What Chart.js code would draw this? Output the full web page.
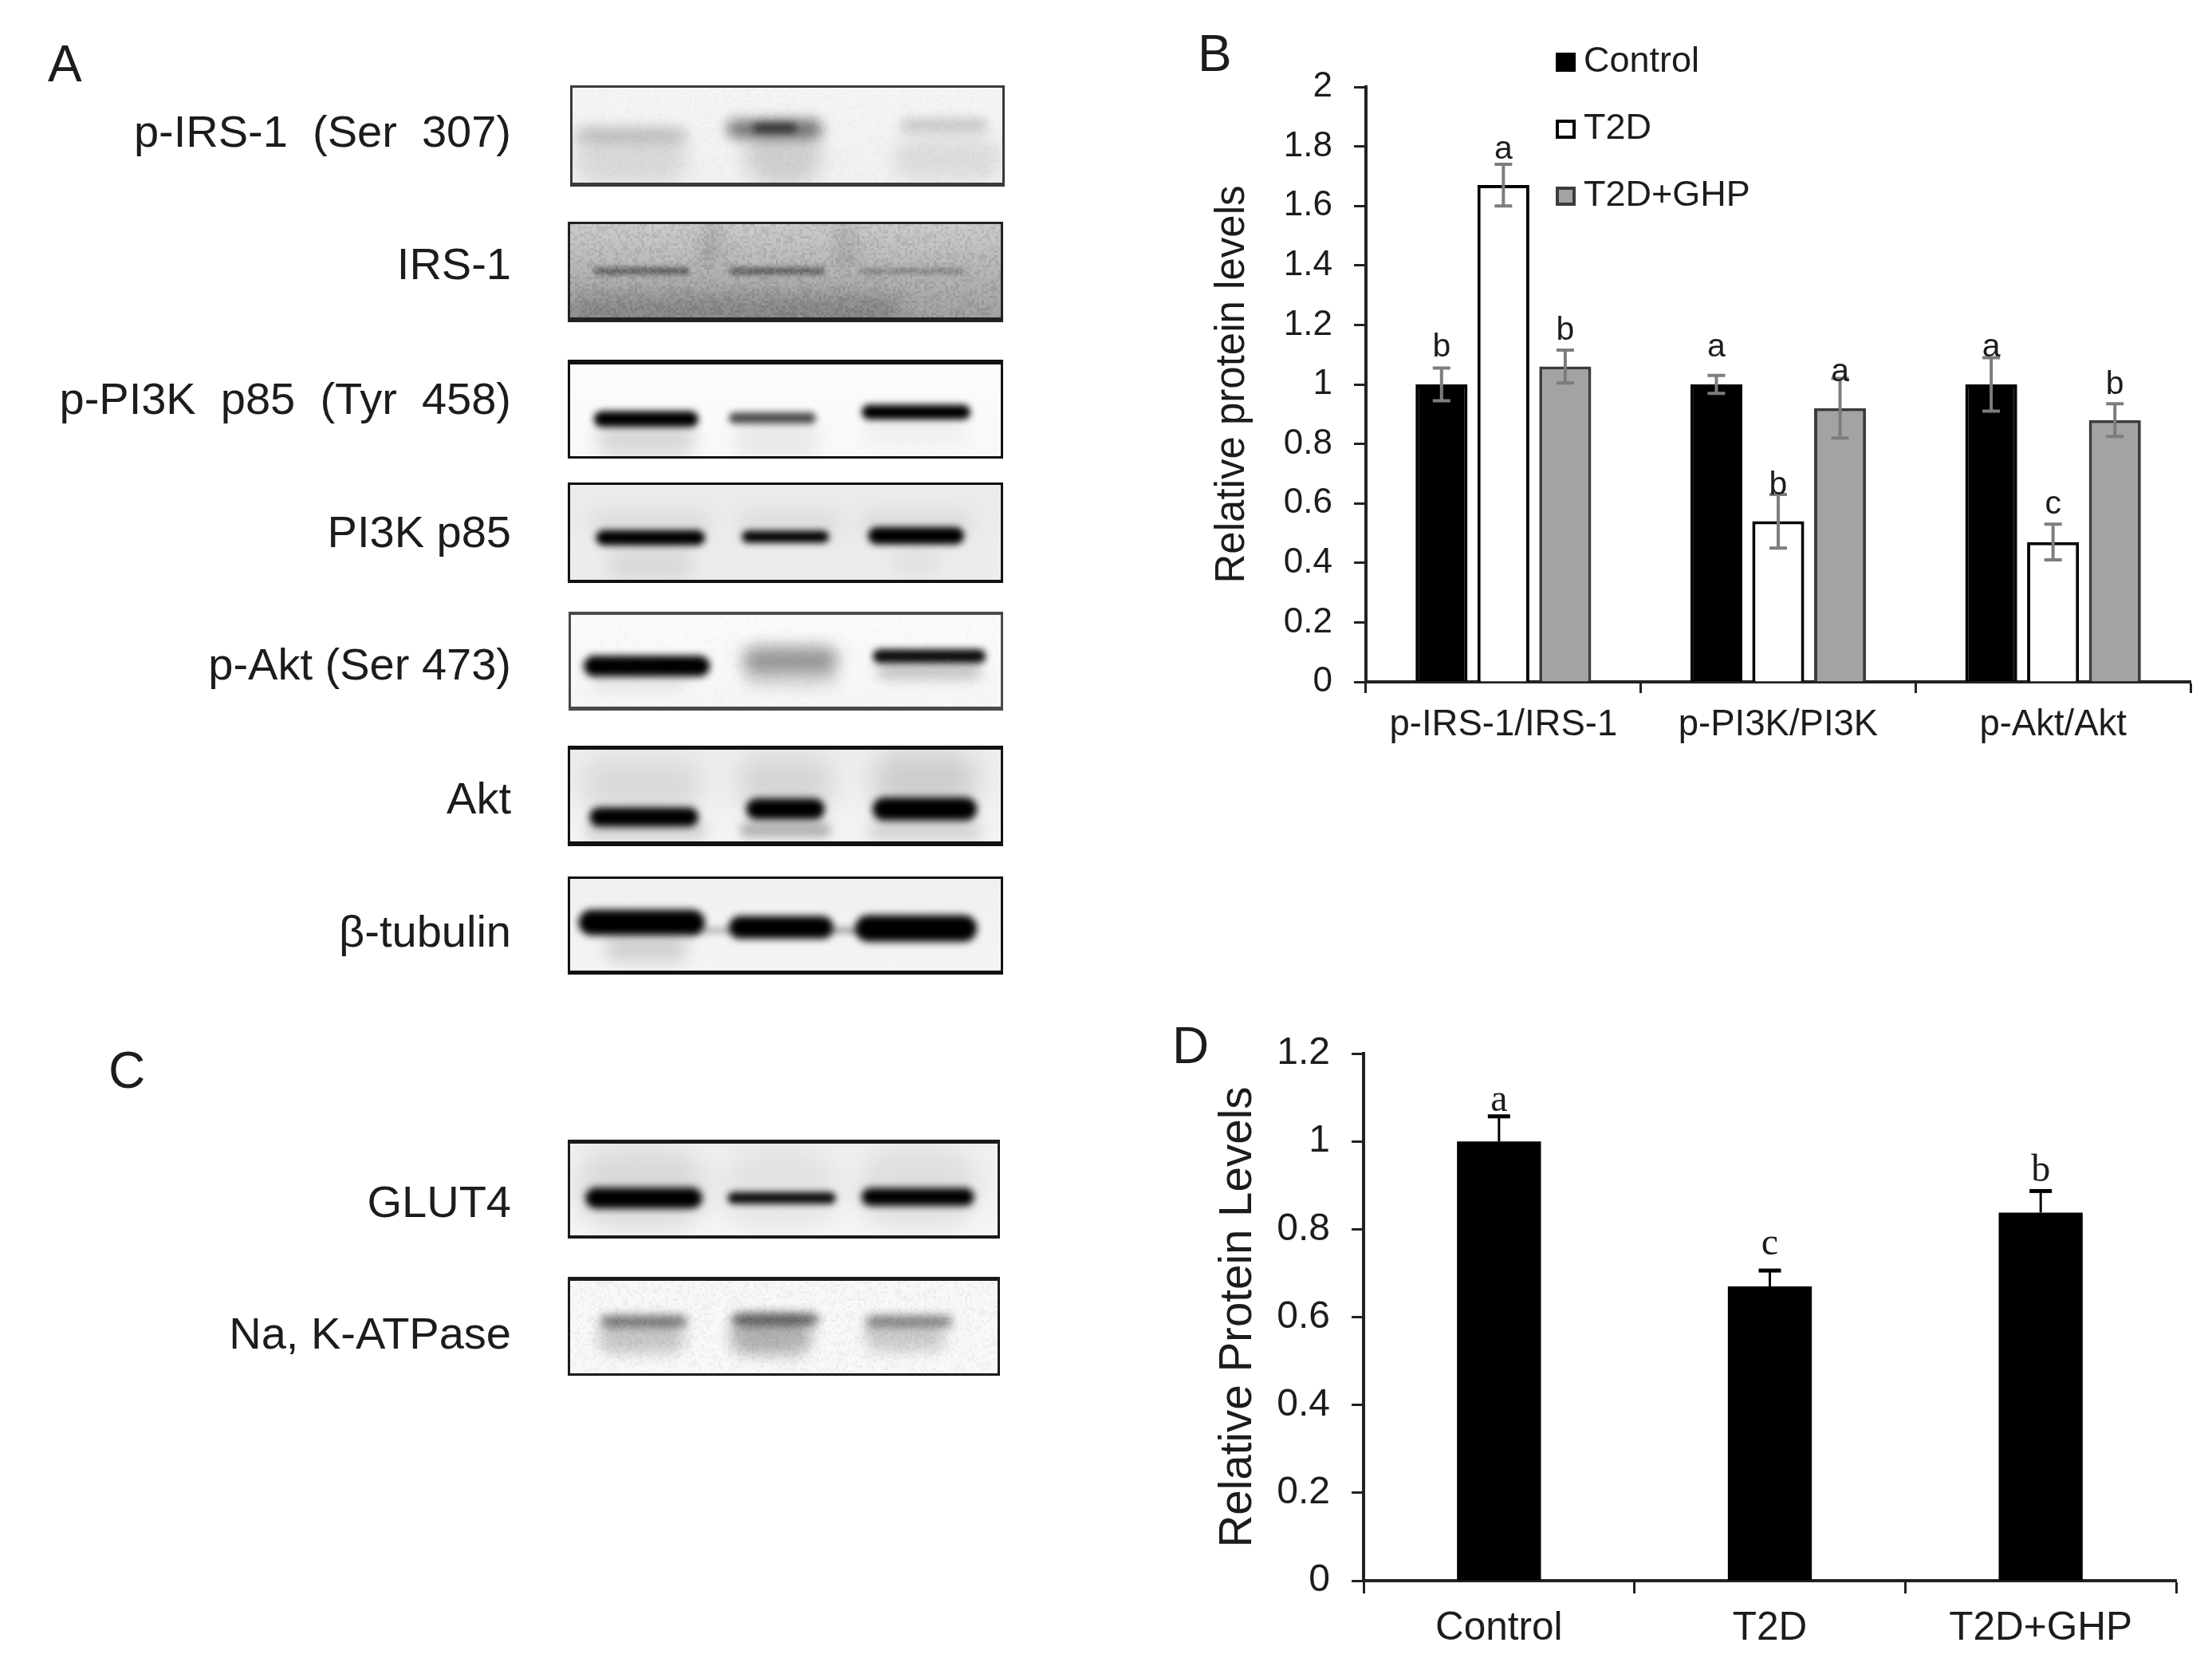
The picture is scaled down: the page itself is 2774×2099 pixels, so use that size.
<!DOCTYPE html>
<html>
<head>
<meta charset="utf-8">
<title>Western blots and relative protein levels</title>
<script src="https://cdn.jsdelivr.net/npm/chart.js@4"></script>
<style>
html,body{margin:0;padding:0;background:#fff;width:2774px;height:2099px;overflow:hidden}
canvas{position:absolute;display:block;filter:blur(0.7px)}
.t{position:absolute;font-family:"Liberation Sans",Arial,sans-serif;color:#1c1c1c;white-space:pre;line-height:70px;height:70px;filter:blur(0.6px)}
.lab{left:0;width:641px;text-align:right;font-size:56px}
.pan{font-size:64px}
</style>
</head>
<body>
<canvas id="blots" width="2774" height="2099" style="left:0;top:0"></canvas>
<canvas id="chartB" width="1294" height="960" style="left:1480px;top:0"></canvas>
<canvas id="chartD" width="1334" height="899" style="left:1440px;top:1200px"></canvas>
<script>
// ---------- Panel B data ----------
const categoriesB = ['p-IRS-1/IRS-1', 'p-PI3K/PI3K', 'p-Akt/Akt'];
const seriesNames = ['Control', 'T2D', 'T2D+GHP'];
const controlB = [1.0, 1.0, 1.0];
const t2dB = [1.67, 0.54, 0.47];
const ghpB = [1.06, 0.92, 0.88];
const controlErrB = [0.055, 0.03, 0.09];
const t2dErrB = [0.07, 0.09, 0.06];
const ghpErrB = [0.055, 0.10, 0.055];
const controlLettersB = ['b', 'a', 'a'];
const t2dLettersB = ['a', 'b', 'c'];
const ghpLettersB = ['b', 'a', 'b'];
const controlLetterAtB = [1.094, 1.094, 1.094];
const t2dLetterAtB = [1.76, 0.63, 0.565];
const ghpLetterAtB = [1.15, 1.012, 0.968];
const ticksMaxB = 2;

// ---------- Panel D data ----------
const categoriesD = ['Control', 'T2D', 'T2D+GHP'];
const valuesD = [1.0, 0.67, 0.838];
const errD = [0.057, 0.036, 0.049];
const lettersD = ['a', 'c', 'b'];
const letterAtD = [1.07, 0.743, 0.91];
const ticksMaxD = 1.2;

// ---------- Panel text ----------
const blotLabels = ['p-IRS-1  (Ser  307)', 'IRS-1', 'p-PI3K  p85  (Tyr  458)', 'PI3K p85', 'p-Akt (Ser 473)', 'Akt', 'β-tubulin', 'GLUT4', 'Na, K-ATPase'];
const panelLetters = ['A', 'B', 'C', 'D'];

const SANS = '"Liberation Sans", Arial, sans-serif';
const SERIF = '"Liberation Serif", "Times New Roman", serif';
const INK = '#1c1c1c';

// Label placement on the page
const labelCentres = [165, 331, 500, 667, 833, 1001, 1168, 1507, 1672];
labelCentres.forEach((cy, i) => {
  const d = document.createElement('div');
  d.className = 't lab'; d.textContent = blotLabels[i]; d.style.top = (cy - 35) + 'px';
  document.body.appendChild(d);
});
[[60, 80], [1502, 67], [136, 1342], [1470, 1311]].forEach((p, i) => {
  const d = document.createElement('div');
  d.className = 't pan'; d.textContent = panelLetters[i];
  d.style.left = p[0] + 'px'; d.style.top = (p[1] - 35) + 'px';
  document.body.appendChild(d);
});

// ---------- Blot photographs (panels A and C), painted as soft bands ----------
const panels = [
 {x:715,y:107,w:545,h:127,bg:['#f5f5f5','#f1f1f1'],top:3,bot:5,edge:'#3a3a3a',grain:.02,bands:[
  [.14,.72,.26,.5,.1,12],[.49,.68,.18,.62,.14,12],[.87,.72,.25,.42,.09,12],
  [.14,.49,.26,.15,.17,8],[.47,.43,.22,.18,.5,8],[.47,.42,.1,.09,.6,5],[.86,.39,.2,.12,.18,7]]},
 {x:712,y:278,w:546,h:126,bg:['#cbcbcb','#9a9a9a'],top:3,bot:6,edge:'#222',grain:.09,bands:[
  [.33,.22,.05,.5,.1,9],[.64,.22,.05,.5,.1,9],[.38,.88,.76,.3,.18,14],
  [.17,.49,.22,.07,.45,3],[.48,.49,.22,.07,.45,3],[.79,.49,.24,.05,.26,3]]},
 {x:712,y:451,w:546,h:124,bg:['#fcfcfc','#f8f8f8'],top:6,bot:3,edge:'#111',bands:[
  [.18,.8,.23,.38,.12,10],[.48,.8,.2,.38,.06,10],[.8,.72,.24,.26,.04,10],
  [.18,.6,.24,.16,1,4],[.47,.59,.2,.11,.7,4],[.8,.53,.25,.15,1,4]]},
 {x:712,y:605,w:546,h:126,bg:['#ebebeb','#ededed'],top:3,bot:4,edge:'#111',bands:[
  [.19,.82,.2,.36,.08,11],[.8,.8,.12,.3,.04,10],[.19,.42,.28,.28,.06,12],[.51,.42,.24,.28,.06,12],[.8,.42,.26,.3,.06,12],
  [.19,.55,.25,.15,1,4],[.5,.54,.2,.12,1,4],[.8,.53,.22,.17,1,4]]},
 {x:713,y:767,w:545,h:124,bg:['#fbfbfb','#f6f6f6'],top:4,bot:5,edge:'#4a4a4a',grain:.015,bands:[
  [.16,.72,.22,.14,.08,9],[.51,.65,.22,.26,.1,9],[.83,.6,.24,.16,.22,8],
  [.18,.55,.29,.21,1,5],[.51,.48,.22,.26,.38,10],[.83,.45,.26,.14,.95,4]]},
 {x:712,y:935,w:546,h:126,bg:['#ececec','#f4f4f4'],top:5,bot:6,edge:'#111',bands:[
  [.17,.4,.28,.5,.09,16],[.5,.38,.22,.52,.11,16],[.82,.35,.24,.55,.14,16],
  [.18,.85,.28,.18,.13,8],[.5,.84,.21,.15,.26,6],[.82,.85,.26,.18,.14,9],
  [.175,.71,.25,.19,1,5],[.5,.63,.18,.21,1,5],[.82,.63,.24,.23,1,5]]},
 {x:712,y:1099,w:546,h:123,bg:['#f0f0f0','#f4f4f4'],top:3,bot:5,edge:'#111',bands:[
  [.18,.73,.19,.28,.14,10],[.33,.55,.1,.05,.3,4],[.64,.55,.08,.05,.4,4],
  [.17,.47,.29,.26,1,5],[.49,.52,.24,.23,1,5],[.8,.53,.28,.27,1,5]]},
 {x:712,y:1429,w:542,h:124,bg:['#efefef','#f6f6f6'],top:5,bot:4,edge:'#1a1a1a',bands:[
  [.17,.5,.3,.8,.1,16],[.49,.5,.28,.8,.06,16],[.81,.5,.28,.8,.08,16],
  [.176,.59,.27,.21,1,5],[.495,.59,.25,.12,.95,4],[.81,.58,.26,.18,1,5]]},
 {x:712,y:1601,w:542,h:124,bg:['#f8f8f8','#f9f9f9'],top:5,bot:3,edge:'#1a1a1a',grain:.045,bands:[
  [.17,.62,.2,.3,.2,9],[.47,.6,.19,.38,.28,9],[.78,.6,.19,.3,.18,9],
  [.176,.45,.2,.12,.5,6],[.48,.43,.2,.12,.58,6],[.79,.45,.2,.11,.46,6]]}
];
(function paintBlots() {
  const c = document.getElementById('blots').getContext('2d');
  panels.forEach(p => {
    c.save();
    c.beginPath(); c.rect(p.x, p.y, p.w, p.h); c.clip();
    const g = c.createLinearGradient(0, p.y, 0, p.y + p.h);
    g.addColorStop(0, p.bg[0]); g.addColorStop(1, p.bg[1]);
    c.fillStyle = g; c.fillRect(p.x, p.y, p.w, p.h);
    p.bands.forEach(b => {
      const w = b[2] * p.w, h = b[3] * p.h;
      c.filter = 'blur(' + b[5] + 'px)';
      c.fillStyle = 'rgba(0,0,0,' + b[4] + ')';
      c.beginPath();
      c.roundRect(b[0] * p.w + p.x - w / 2, b[1] * p.h + p.y - h / 2, w, h, Math.min(h, w) / 2);
      c.fill();
    });
    c.filter = 'none';
    if (p.grain) {
      // fixed photographic speckle from a position hash
      for (let yy = 0; yy < p.h; yy += 3) for (let xx = 0; xx < p.w; xx += 3) {
        const n = Math.sin(xx * 12.9898 + yy * 78.233) * 43758.5453;
        const f = n - Math.floor(n);
        c.fillStyle = f > .5 ? 'rgba(0,0,0,' + (f - .5) * 2 * p.grain + ')' : 'rgba(255,255,255,' + (.5 - f) * 2 * p.grain + ')';
        c.fillRect(p.x + xx, p.y + yy, 3, 3);
      }
    }
    c.restore();
    c.fillStyle = p.edge;
    c.fillRect(p.x, p.y, p.w, p.top);
    c.fillRect(p.x, p.y + p.h - p.bot, p.w, p.bot);
    c.fillRect(p.x, p.y, 3, p.h);
    c.fillRect(p.x + p.w - 3, p.y, 3, p.h);
  });
})();

// ---------- Chart helpers ----------
const annotate = {
  id: 'annotate',
  afterDatasetsDraw(chart, args, o) {
    const c = chart.ctx, y = chart.scales.y;
    chart.data.datasets.forEach((ds, di) => {
      const meta = chart.getDatasetMeta(di);
      meta.data.forEach((bar, i) => {
        const v = ds.data[i], e = o.err[di][i];
        const top = y.getPixelForValue(v + e);
        const bottom = o.both ? y.getPixelForValue(v - e) : y.getPixelForValue(v);
        c.save();
        c.strokeStyle = o.errColor; c.lineWidth = o.errWidth;
        c.beginPath(); c.moveTo(bar.x, top); c.lineTo(bar.x, bottom); c.stroke();
        c.lineWidth = o.capWidth;
        c.beginPath(); c.moveTo(bar.x - o.cap, top); c.lineTo(bar.x + o.cap, top);
        if (o.both) { c.moveTo(bar.x - o.cap, bottom); c.lineTo(bar.x + o.cap, bottom); }
        c.stroke();
        c.fillStyle = INK; c.font = o.letterFont; c.textAlign = 'center'; c.textBaseline = 'alphabetic';
        c.fillText(o.letters[di][i], bar.x, y.getPixelForValue(o.letterAt[di][i]));
        c.restore();
      });
    });
  },
  afterDraw(chart, args, o) {
    if (!o.legend) return;
    const c = chart.ctx;
    chart.data.datasets.forEach((ds, i) => {
      const yc = o.legend.y + i * o.legend.step;
      c.save();
      c.fillStyle = ds.backgroundColor; c.strokeStyle = ds.borderColor; c.lineWidth = 4;
      c.fillRect(o.legend.x, yc - 12, 25, 24); c.strokeRect(o.legend.x + 2, yc - 10, 21, 20);
      c.fillStyle = INK; c.font = o.legend.font; c.textAlign = 'left'; c.textBaseline = 'middle';
      c.fillText(ds.label, o.legend.x + 35, yc);
      c.restore();
    });
  }
};
function axisOptions(xFont, yFont, titleText, titleSize, titlePad, yW, xH, max, xPad, xTick) {
  const tickFmt = v => String(+(+v).toFixed(1));
  return {
    x: {
      grid: { drawOnChartArea: false, drawTicks: true, tickLength: xTick, tickWidth: 3, tickColor: '#222', offset: true },
      border: { display: true, color: '#222', width: 4 },
      ticks: { color: INK, font: { family: SANS, size: xFont }, padding: xPad, maxRotation: 0, autoSkip: false },
      afterFit(s) { s.height = xH; }
    },
    y: {
      min: 0, max,
      grid: { drawOnChartArea: false, drawTicks: true, tickLength: 15, tickWidth: 3, tickColor: '#222' },
      border: { display: true, color: '#222', width: 4 },
      ticks: { stepSize: 0.2, color: INK, font: { family: SANS, size: yFont }, padding: 27, callback: tickFmt, autoSkip: false },
      title: { display: true, text: titleText, color: INK, font: { family: SANS, size: titleSize }, padding: { top: titlePad, bottom: 0 } },
      afterFit(s) { s.width = yW; }
    }
  };
}
Chart.defaults.animation = false;

// ---------- Panel B ----------
new Chart(document.getElementById('chartB'), {
  type: 'bar',
  plugins: [annotate],
  data: {
    labels: categoriesB,
    datasets: [
      { label: seriesNames[0], data: controlB, backgroundColor: '#000000', borderColor: '#000000', borderWidth: 4 },
      { label: seriesNames[1], data: t2dB, backgroundColor: '#ffffff', borderColor: '#000000', borderWidth: 4 },
      { label: seriesNames[2], data: ghpB, backgroundColor: '#a3a3a3', borderColor: '#3c3c3c', borderWidth: 4 }
    ]
  },
  options: {
    responsive: false,
    categoryPercentage: 0.675,
    barPercentage: 0.84,
    layout: { padding: { top: 109, right: 27, left: 0, bottom: 0 } },
    scales: axisOptions(45.5, 44, 'Relative protein levels', 51, 35, 233, 105, ticksMaxB, 13, 14),
    plugins: {
      legend: { display: false }, tooltip: { enabled: false },
      annotate: {
        both: true, err: [controlErrB, t2dErrB, ghpErrB], errColor: '#7d7d7d', errWidth: 4, capWidth: 4, cap: 11,
        letters: [controlLettersB, t2dLettersB, ghpLettersB],
        letterAt: [controlLetterAtB, t2dLetterAtB, ghpLetterAtB],
        letterFont: '41px ' + SANS,
        legend: { x: 471, y: 78, step: 84, font: '45px ' + SANS }
      }
    }
  }
});

// ---------- Panel D ----------
new Chart(document.getElementById('chartD'), {
  type: 'bar',
  plugins: [annotate],
  data: {
    labels: categoriesD,
    datasets: [{ label: 'Relative Protein Levels', data: valuesD, backgroundColor: '#000000', borderColor: '#000000', borderWidth: 0 }]
  },
  options: {
    responsive: false,
    categoryPercentage: 0.31,
    barPercentage: 1,
    layout: { padding: { top: 121, right: 45, left: 0, bottom: 0 } },
    scales: axisOptions(49.5, 48, 'Relative Protein Levels', 56.5, 80, 270, 117, ticksMaxD, 15, 16),
    plugins: {
      legend: { display: false }, tooltip: { enabled: false },
      annotate: {
        both: false, err: [errD], errColor: '#000000', errWidth: 3, capWidth: 5, cap: 14,
        letters: [lettersD], letterAt: [letterAtD],
        letterFont: '48px ' + SERIF
      }
    }
  }
});
</script>
</body>
</html>
